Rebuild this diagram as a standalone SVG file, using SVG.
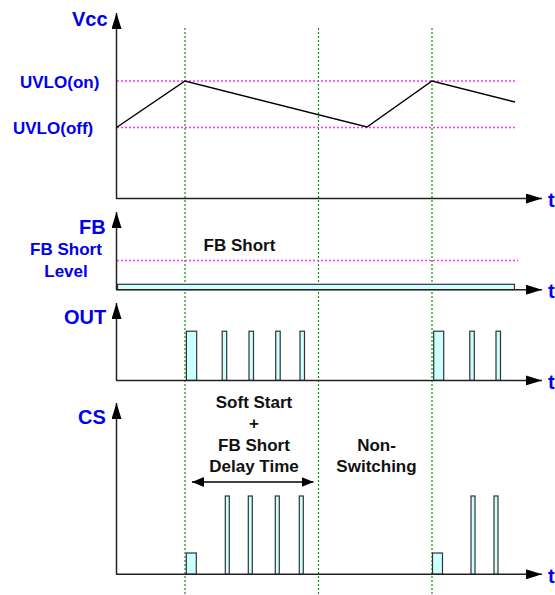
<svg xmlns="http://www.w3.org/2000/svg" width="555" height="595" viewBox="0 0 555 595">
<style>
.ax{stroke:#222;stroke-width:1.5;fill:none}
.grn{stroke:#009900;stroke-width:1.2;stroke-dasharray:2,2;fill:none}
.mag{stroke:#ff33ff;stroke-width:1.3;stroke-dasharray:2,2;fill:none}
.pl{fill:#ccffff;stroke:#333;stroke-width:1.2}
.lb{font-family:"Liberation Sans",Arial,sans-serif;font-weight:bold;fill:#0000ee}
.bk{font-family:"Liberation Sans",Arial,sans-serif;font-weight:bold;fill:#111;font-size:17px;text-anchor:middle}
.hd{fill:#000}
</style>
<defs>
<marker id="ah" viewBox="0 0 16 10" refX="16" refY="5" markerWidth="16" markerHeight="10" markerUnits="userSpaceOnUse" orient="auto">
<path d="M0,0 L16,5 L0,10 Z" class="hd"/>
</marker>
<marker id="ah2" viewBox="0 0 12 10" refX="12" refY="5" markerWidth="12" markerHeight="10" markerUnits="userSpaceOnUse" orient="auto-start-reverse">
<path d="M0,0 L12,5 L0,10 Z" class="hd"/>
</marker>
</defs>
<g id="guides">
<line class="grn" x1="185" y1="28" x2="185" y2="595"/>
<line class="grn" x1="318.5" y1="28" x2="318.5" y2="595"/>
<line class="grn" x1="432" y1="28" x2="432" y2="595"/>
<line class="mag" x1="117" y1="81" x2="517" y2="81"/>
<line class="mag" x1="117" y1="127.5" x2="517" y2="127.5"/>
<line class="mag" x1="117" y1="260.5" x2="518" y2="260.5"/>
</g>
<g id="vcc">
<line class="ax" x1="116.5" y1="198.5" x2="116.5" y2="13" marker-end="url(#ah)"/>
<line class="ax" x1="116" y1="198.5" x2="542" y2="198.5" marker-end="url(#ah)"/>
<polyline points="116.5,127.5 185,81 367,127 432,81 515,102" fill="none" stroke="#000" stroke-width="1.5"/>
<text class="lb" x="72" y="26" font-size="20">Vcc</text>
<text class="lb" x="20" y="88" font-size="17">UVLO(on)</text>
<text class="lb" x="13" y="134" font-size="17">UVLO(off)</text>
<text class="lb" x="548" y="207" font-size="20">t</text>
</g>
<g id="fb">
<rect class="pl" x="117.5" y="284.3" width="397" height="5.3"/>
<line class="ax" x1="116.5" y1="289.8" x2="116.5" y2="212" marker-end="url(#ah)"/>
<line class="ax" x1="116" y1="289.8" x2="542" y2="289.8" marker-end="url(#ah)"/>
<text class="lb" x="79" y="234" font-size="20">FB</text>
<text class="lb" x="66" y="255" font-size="17" text-anchor="middle">FB Short</text>
<text class="lb" x="66" y="277" font-size="17" text-anchor="middle">Level</text>
<text class="bk" x="239.5" y="251">FB Short</text>
<text class="lb" x="548" y="298" font-size="20">t</text>
</g>
<g id="out">
<rect class="pl" x="186.4" y="331.2" width="10.3" height="49.2"/>
<rect class="pl" x="222.2" y="331.2" width="4.5" height="49.2"/>
<rect class="pl" x="249" y="331.2" width="4.5" height="49.2"/>
<rect class="pl" x="275.7" y="331.2" width="4.5" height="49.2"/>
<rect class="pl" x="300" y="331.2" width="4.5" height="49.2"/>
<rect class="pl" x="433.7" y="331.2" width="10" height="49.2"/>
<rect class="pl" x="469.8" y="331.2" width="4.5" height="49.2"/>
<rect class="pl" x="496" y="331.2" width="4.5" height="49.2"/>
<line class="ax" x1="116.5" y1="380.4" x2="116.5" y2="303" marker-end="url(#ah)"/>
<line class="ax" x1="116" y1="380.4" x2="542" y2="380.4" marker-end="url(#ah)"/>
<text class="lb" x="64" y="324" font-size="20">OUT</text>
<text class="lb" x="548" y="389" font-size="20">t</text>
</g>
<g id="cs">
<rect class="pl" x="186.3" y="553" width="10" height="21.3"/>
<rect class="pl" x="225.3" y="496" width="4" height="78.3"/>
<rect class="pl" x="248.3" y="496" width="4" height="78.3"/>
<rect class="pl" x="275.3" y="496" width="4" height="78.3"/>
<rect class="pl" x="299.3" y="496" width="4" height="78.3"/>
<rect class="pl" x="432.5" y="553" width="10" height="21.3"/>
<rect class="pl" x="471" y="496" width="4" height="78.3"/>
<rect class="pl" x="494" y="496" width="4" height="78.3"/>
<line class="ax" x1="116.5" y1="574.3" x2="116.5" y2="403" marker-end="url(#ah)"/>
<line class="ax" x1="116" y1="574.3" x2="542" y2="574.3" marker-end="url(#ah)"/>
<text class="lb" x="78" y="424" font-size="20">CS</text>
<text class="lb" x="548" y="583" font-size="20">t</text>
</g>
<g id="labels">
<text class="bk" x="254" y="408">Soft Start</text>
<text class="bk" x="254" y="429">+</text>
<text class="bk" x="254" y="450.5">FB Short</text>
<text class="bk" x="254" y="471.5">Delay Time</text>
<text class="bk" x="376.5" y="450.5">Non-</text>
<text class="bk" x="376.5" y="471.5">Switching</text>
</g>
<g id="connectors">
<line x1="192" y1="482" x2="313.5" y2="482" stroke="#000" stroke-width="1.5" marker-start="url(#ah2)" marker-end="url(#ah2)"/>
</g>
</svg>
